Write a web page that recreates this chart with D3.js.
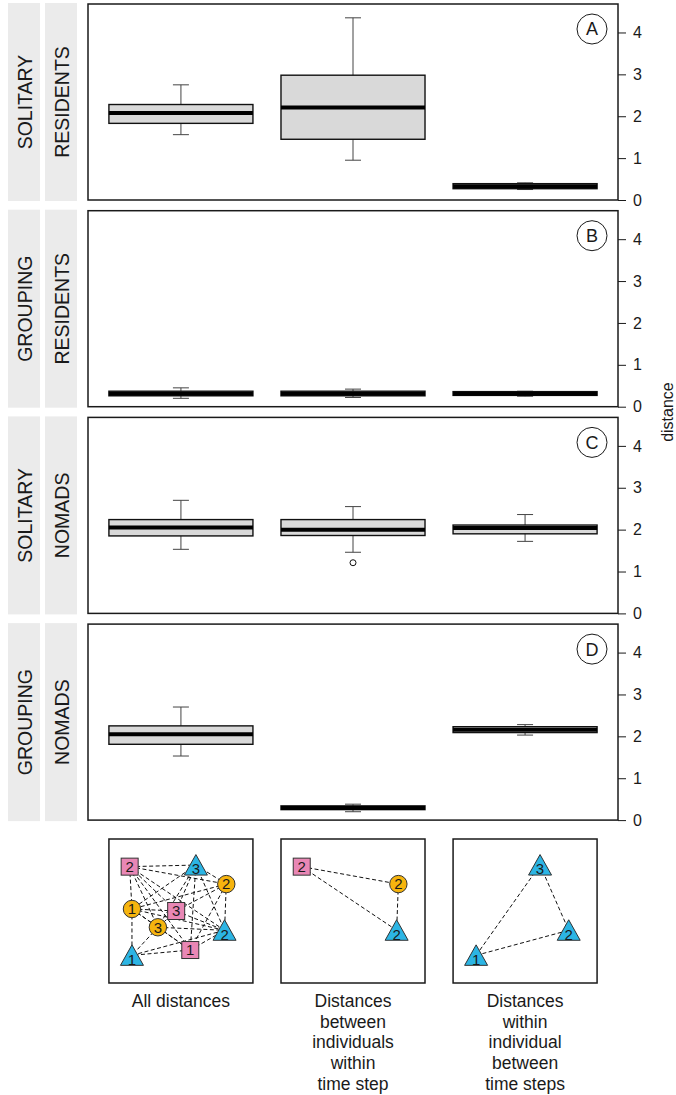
<!DOCTYPE html>
<meta charset="utf-8">
<script src="https://d3js.org/d3.v7.min.js"></script>
<style>
  body { margin: 0; background: #fff; }
  text { font-family: "Liberation Sans", Arial, sans-serif; fill: #1a1a1a; }
</style>
<div id="chart"></div>
<script>
// ---- data ----
var panelLetters = ["A", "B", "C", "D"];
var rowOuter = ["SOLITARY", "GROUPING", "SOLITARY", "GROUPING"];
var rowInner = ["RESIDENTS", "RESIDENTS", "NOMADS", "NOMADS"];
var distTypes = ["all", "between", "within"];

// [lower whisker, q1, median, q3, upper whisker] for each distance type
var statsA = [[1.56, 1.83, 2.08, 2.28, 2.75], [0.95, 1.45, 2.21, 2.98, 4.35], [0.25, 0.27, 0.33, 0.39, 0.41]];
var statsB = [[0.20, 0.26, 0.31, 0.37, 0.45], [0.22, 0.26, 0.31, 0.37, 0.42], [0.25, 0.27, 0.31, 0.36, 0.37]];
var statsC = [[1.53, 1.85, 2.05, 2.24, 2.70], [1.46, 1.86, 2.00, 2.24, 2.55], [1.72, 1.90, 2.04, 2.11, 2.36]];
var statsD = [[1.53, 1.81, 2.05, 2.25, 2.70], [0.20, 0.25, 0.29, 0.34, 0.38], [2.03, 2.09, 2.16, 2.23, 2.28]];
var allStats = [statsA, statsB, statsC, statsD];
// outliers: [panel, distance type index, value]
var outliers = [[2, 1, 1.21]];

var yTicks = [0, 1, 2, 3, 4];

var captions = [
  ["All distances"],
  ["Distances", "between", "individuals", "within", "time step"],
  ["Distances", "within", "individual", "between", "time steps"]
];

// schematic nodes: shape = individual, label = time step, position in unit box
var nodeIds   = ["s2", "t3", "c2", "c1", "s3", "c3", "t2", "s1", "t1"];
var nodeShape = ["square", "triangle", "circle", "circle", "square", "circle", "triangle", "square", "triangle"];
var nodeLabel = ["2", "3", "2", "1", "3", "3", "2", "1", "1"];
var nodeX = [0.144, 0.604, 0.815, 0.160, 0.467, 0.340, 0.803, 0.565, 0.160];
var nodeY = [0.192, 0.181, 0.313, 0.486, 0.500, 0.613, 0.634, 0.771, 0.808];

var edgesAll = [
  ["s2","t3"],["s2","c2"],["s2","c1"],["s2","s3"],["s2","t2"],["s2","s1"],["s2","c3"],
  ["t3","c2"],["t3","c1"],["t3","s3"],["t3","c3"],["t3","t2"],["t3","s1"],
  ["c2","c1"],["c2","s3"],["c2","t2"],["c2","s1"],
  ["c1","s3"],["c1","c3"],["c1","t1"],["c1","t2"],["c1","s1"],
  ["s3","t2"],["s3","c3"],
  ["c3","s1"],["c3","t1"],["c3","t2"],
  ["s1","t2"],["s1","t1"],["t1","t2"]
];
var edgesBetween = [["s2","c2"],["s2","t2"],["c2","t2"]];
var edgesWithin = [["t1","t2"],["t1","t3"],["t3","t2"]];
var diagramNodes = [nodeIds, ["s2", "c2", "t2"], ["t3", "t2", "t1"]];
var diagramEdges = [edgesAll, edgesBetween, edgesWithin];

var shapeColor = {square: "#e987b5", triangle: "#2cb5e4", circle: "#f6b40e"};

// ---- layout ----
var W = 676, H = 1095;
var left = 88, right = 618;
var panelH = 196, panelStep = 206.7, firstTop = 4;

var svg = d3.select("#chart").append("svg")
  .attr("width", W).attr("height", H);

var x = d3.scalePoint()
  .domain(d3.range(distTypes.length))
  .range([left, right])
  .padding(0.54);
var boxW = x.step() * 0.837;

allStats.forEach(function(stats, p) {
  var top = firstTop + p * panelStep;
  var bottom = top + panelH;
  var y = d3.scaleLinear().domain([0, 4.68]).range([bottom, top]);

  // strips
  svg.append("rect").attr("x", 8).attr("y", top - 1).attr("width", 32).attr("height", panelH + 2).attr("fill", "#ebebeb");
  svg.append("rect").attr("x", 45).attr("y", top - 1).attr("width", 32).attr("height", panelH + 2).attr("fill", "#ebebeb");
  svg.append("text")
    .attr("transform", "translate(31.5," + (top + panelH / 2) + ") rotate(-90)")
    .attr("text-anchor", "middle").style("font-size", "19.5px")
    .text(rowOuter[p]);
  svg.append("text")
    .attr("transform", "translate(68.5," + (top + panelH / 2) + ") rotate(-90)")
    .attr("text-anchor", "middle").style("font-size", "19.5px")
    .text(rowInner[p]);

  var g = svg.append("g");

  // boxes
  stats.forEach(function(s, i) {
    var cx = x(i);
    g.append("line").attr("x1", cx).attr("x2", cx).attr("y1", y(s[0])).attr("y2", y(s[4]))
      .attr("stroke", "#444").attr("stroke-width", 1);
    [s[0], s[4]].forEach(function(v) {
      g.append("line").attr("x1", cx - 8).attr("x2", cx + 8).attr("y1", y(v)).attr("y2", y(v))
        .attr("stroke", "#444").attr("stroke-width", 1);
    });
    g.append("rect")
      .attr("x", cx - boxW / 2).attr("width", boxW)
      .attr("y", y(s[3])).attr("height", y(s[1]) - y(s[3]))
      .attr("fill", "#d9d9d9").attr("stroke", "#111").attr("stroke-width", 1.4);
    g.append("line").attr("x1", cx - boxW / 2).attr("x2", cx + boxW / 2)
      .attr("y1", y(s[2])).attr("y2", y(s[2]))
      .attr("stroke", "#000").attr("stroke-width", 4);
  });

  outliers.filter(function(o) { return o[0] === p; }).forEach(function(o) {
    g.append("circle").attr("cx", x(o[1])).attr("cy", y(o[2])).attr("r", 3)
      .attr("fill", "none").attr("stroke", "#111").attr("stroke-width", 1);
  });

  // frame
  svg.append("rect").attr("x", left).attr("y", top).attr("width", right - left).attr("height", panelH)
    .attr("fill", "none").attr("stroke", "#1a1a1a").attr("stroke-width", 1.5);

  // axis
  var ax = svg.append("g").attr("transform", "translate(" + right + ",0)")
    .call(d3.axisRight(y).tickValues(yTicks).tickSize(8).tickPadding(7).tickFormat(d3.format("d")));
  ax.select(".domain").remove();
  ax.selectAll("line").attr("stroke", "#1a1a1a");
  ax.selectAll("text").style("font-size", "16px").style("font-family", "Liberation Sans, Arial, sans-serif").attr("fill", "#1a1a1a");

  // panel letter
  svg.append("circle").attr("cx", right - 26).attr("cy", top + 25).attr("r", 15)
    .attr("fill", "#fff").attr("stroke", "#1a1a1a").attr("stroke-width", 1);
  svg.append("text").attr("x", right - 26).attr("y", top + 25).attr("dy", "0.36em")
    .attr("text-anchor", "middle").style("font-size", "18px").text(panelLetters[p]);
});

svg.append("text")
  .attr("transform", "translate(673," + (firstTop + (3 * panelStep + panelH) / 2) + ") rotate(-90)")
  .attr("text-anchor", "middle").style("font-size", "16px")
  .text("distance");

// ---- schematic diagrams ----
var dTop = 839, dSize = 144;
var nx = d3.scaleLinear().domain([0, 1]).range([0, dSize]);
var ny = d3.scaleLinear().domain([0, 1]).range([0, dSize]);

diagramNodes.forEach(function(ids, k) {
  var gx = x(k) - dSize / 2;
  var g = svg.append("g").attr("transform", "translate(" + gx + "," + dTop + ")");
  g.append("rect").attr("width", dSize).attr("height", dSize)
    .attr("fill", "#fff").attr("stroke", "#1a1a1a").attr("stroke-width", 1.5);

  function pos(id) {
    var j = nodeIds.indexOf(id);
    return [nx(nodeX[j]), ny(nodeY[j])];
  }

  diagramEdges[k].forEach(function(e) {
    var a = pos(e[0]), b = pos(e[1]);
    g.append("line").attr("x1", a[0]).attr("y1", a[1]).attr("x2", b[0]).attr("y2", b[1])
      .attr("stroke", "#111").attr("stroke-width", 1).attr("stroke-dasharray", "4,2.5");
  });

  ids.forEach(function(id) {
    var j = nodeIds.indexOf(id), c = pos(id), shape = nodeShape[j];
    var ly = c[1];
    if (shape === "square") {
      g.append("rect").attr("x", c[0] - 8.5).attr("y", c[1] - 8.5).attr("width", 17).attr("height", 17)
        .attr("fill", shapeColor.square).attr("stroke", "#333").attr("stroke-width", 1);
    } else if (shape === "circle") {
      g.append("circle").attr("cx", c[0]).attr("cy", c[1]).attr("r", 8.7)
        .attr("fill", shapeColor.circle).attr("stroke", "#333").attr("stroke-width", 1);
    } else {
      g.append("path")
        .attr("d", "M" + c[0] + "," + (c[1] - 10.5) + "L" + (c[0] + 11.5) + "," + (c[1] + 10) + "L" + (c[0] - 11.5) + "," + (c[1] + 10) + "Z")
        .attr("fill", shapeColor.triangle).attr("stroke", "#333").attr("stroke-width", 1);
      ly = c[1] + 4;
    }
    g.append("text").attr("x", c[0]).attr("y", ly).attr("dy", "0.36em")
      .attr("text-anchor", "middle").style("font-size", "15px").text(nodeLabel[j]);
  });

  var t = svg.append("text").attr("text-anchor", "middle").style("font-size", "17.5px");
  captions[k].forEach(function(line, i) {
    t.append("tspan").attr("x", x(k)).attr("y", 1007 + i * 20.7).text(line);
  });
});
</script>
